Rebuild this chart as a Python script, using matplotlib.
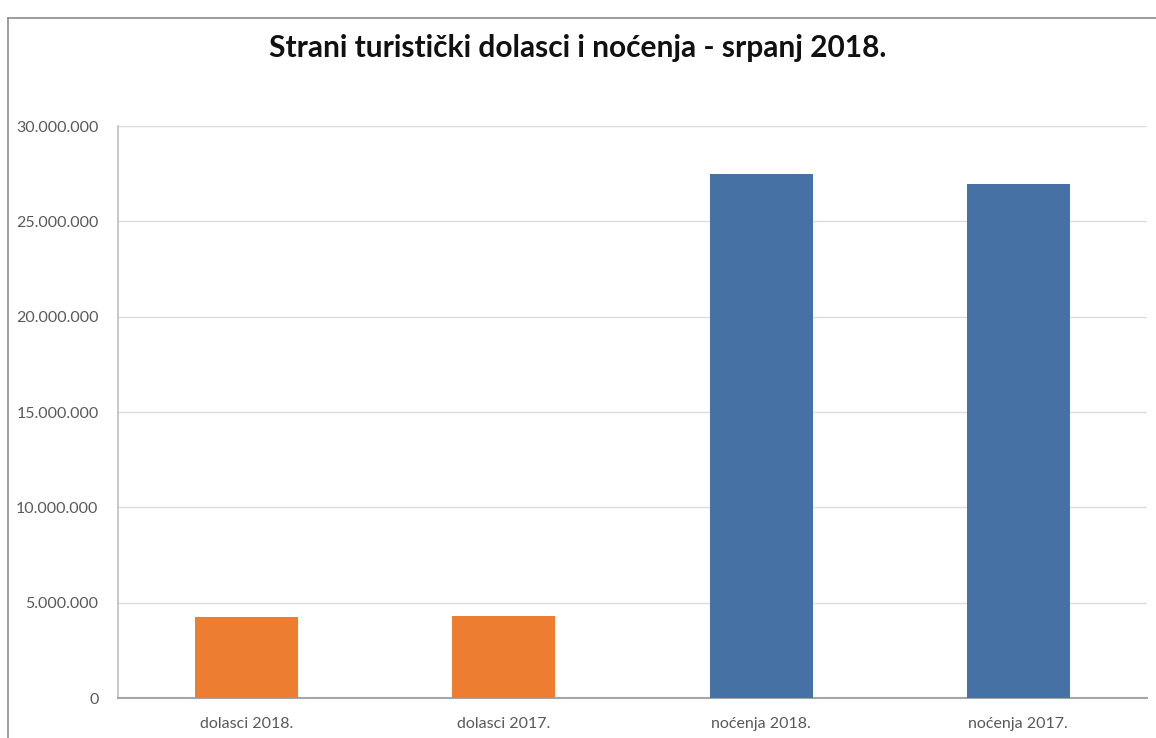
import matplotlib
matplotlib.use('Agg')
import matplotlib.pyplot as plt
from matplotlib.ticker import FuncFormatter
from matplotlib.lines import Line2D
import numpy as np

categories = ['dolasci 2018.', 'dolasci 2017.', 'noćenja 2018.', 'noćenja 2017.']
values = [4240000, 4300000, 27480000, 26950000]
bar_colors = ['#ED7D31', '#ED7D31', '#4571A5', '#4571A5']
y_ticks = [0, 5000000, 10000000, 15000000, 20000000, 25000000, 30000000]
title = 'Strani turistički dolasci i noćenja - srpanj 2018.'

plt.rcParams['font.family'] = ['Lato', 'DejaVu Sans']

fig = plt.figure(figsize=(11.56, 7.38), dpi=100)
ax = fig.add_axes([118 / 1156, 1 - 698 / 738, (1147 - 118) / 1156, (698 - 126) / 738])

index = np.arange(len(categories))
ax.bar(index, values, width=0.4, color=bar_colors, zorder=3)

ax.set_xlim(-0.5, len(categories) - 0.5)
ax.set_ylim(0, 30000000)
ax.set_yticks(y_ticks)
ax.yaxis.set_major_formatter(FuncFormatter(lambda v, _: f'{int(v):,}'.replace(',', '.')))
ax.set_xticks(index)
ax.set_xticklabels(categories)
ax.tick_params(axis='both', length=0, labelsize=11.5, colors='#595959')
ax.tick_params(axis='y', pad=14)
ax.tick_params(axis='x', pad=14)

ax.grid(axis='y', color='#dcdcdc', linewidth=1, zorder=0)
for side in ['top', 'right']:
    ax.spines[side].set_visible(False)
ax.spines['left'].set_color('#bdbdbd')
ax.spines['left'].set_linewidth(1.2)
ax.spines['bottom'].set_color('#a6a6a6')
ax.spines['bottom'].set_linewidth(1.5)

fig.text(0.5, 1 - 48 / 738, title, ha='center', va='center',
         fontsize=21.5, fontweight='bold', color='#111111')

# outer border of the chart area
fig.add_artist(Line2D([8 / 1156, 8 / 1156], [0, 1 - 18 / 738], color='#8c8c8c', linewidth=1.2))
fig.add_artist(Line2D([8 / 1156, 1], [1 - 18 / 738, 1 - 18 / 738], color='#8c8c8c', linewidth=1.2))

fig.savefig('out.png', dpi=100, facecolor='white')
